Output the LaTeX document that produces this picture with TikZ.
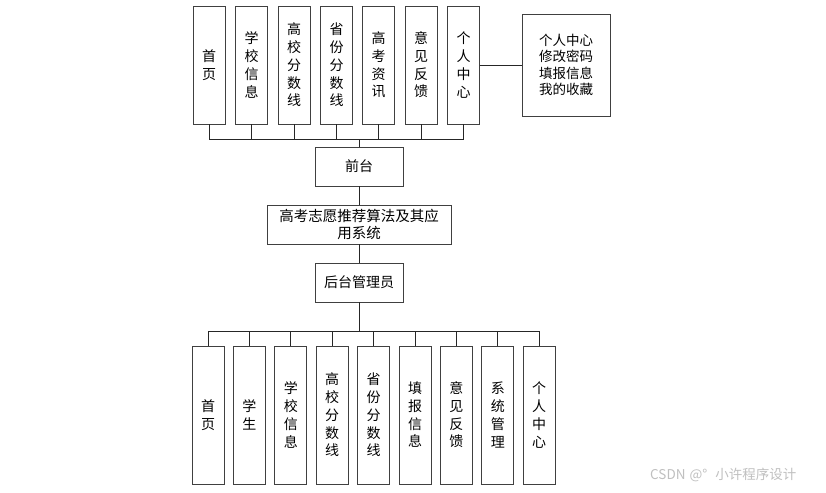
\documentclass[tikz,border=0pt]{standalone}
\usepackage{fontspec}
\newfontfamily\cjk{Noto Sans CJK SC}
\begin{document}
\begin{tikzpicture}[x=1pt,y=-1pt,
  box/.style={draw=black!75,line width=0.8pt,inner sep=0pt,align=center,font=\cjk\fontsize{14}{17.7}\selectfont},
  vbox/.style={box,minimum width=32pt},
  wire/.style={draw=black!85,line width=0.8pt}]
\useasboundingbox (0,0) rectangle (826,492);
% top row
\foreach \i/\x/\t in {1/209/首\\页, 2/251.5/学\\校\\信\\息, 3/294/高\\校\\分\\数\\线, 4/336.5/省\\份\\分\\数\\线, 5/378.5/高\\考\\资\\讯, 6/421/意\\见\\反\\馈, 7/463.5/个\\人\\中\\心}
  \node[vbox,minimum height=118pt] (t\i) at (\x,65) {\t};
\node[box,minimum width=88pt,minimum height=102pt,font=\cjk\fontsize{13.5}{16.3}\selectfont] (pc) at (566,65) {个人中心\\修改密码\\填报信息\\我的收藏};
\node[box,minimum width=88pt,minimum height=39pt] (qt) at (359,166.5) {前台};
\node[box,minimum width=184pt,minimum height=39pt,font=\cjk\fontsize{14.5}{17.7}\selectfont] (sys) at (359,224.5) {高考志愿推荐算法及其应\\用系统};
\node[box,minimum width=88pt,minimum height=39pt] (ht) at (359,282.5) {后台管理员};
% bottom row
\foreach \i/\x/\t in {1/208/首\\页, 2/249.4/学\\生, 3/290.8/学\\校\\信\\息, 4/332.2/高\\校\\分\\数\\线, 5/373.6/省\\份\\分\\数\\线, 6/415/填\\报\\信\\息, 7/456.4/意\\见\\反\\馈, 8/497.8/系\\统\\管\\理, 9/539.2/个\\人\\中\\心}
  \node[vbox,minimum height=138pt] (b\i) at (\x,415) {\t};
\coordinate (busT) at (359,139);
\coordinate (busB) at (359,331);
\foreach \i in {1,...,7} \draw[wire] (t\i.south) |- (busT);
\draw[wire] (busT) -- (qt.north);
\draw[wire] (t7.east) -- (pc.west);
\draw[wire] (qt.south) -- (sys.north);
\draw[wire] (sys.south) -- (ht.north);
\draw[wire] (ht.south) -- (busB);
\foreach \i in {1,...,9} \draw[wire] (b\i.north) |- (busB);
\node[font=\cjk\fontsize{13.5}{15}\selectfont,text=black!25,anchor=west,inner sep=0pt] (wm) at (650,475) {CSDN\hspace{4pt}@°\hspace{8pt}小许程序设计};
\end{tikzpicture}
\end{document}
